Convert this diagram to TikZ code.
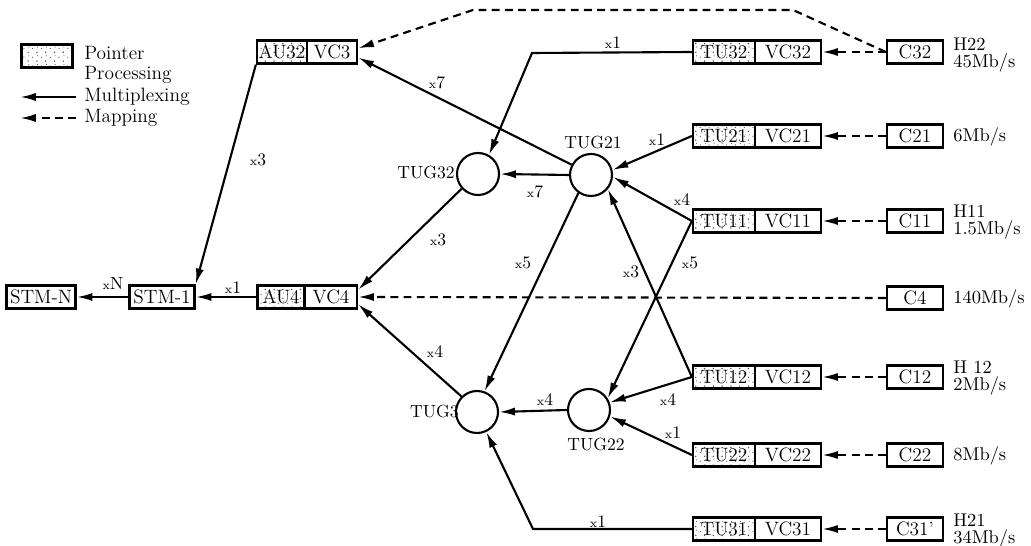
\documentclass[tikz,border=0pt]{standalone}
\usepackage{tikz}
\usetikzlibrary{arrows.meta,patterns}

\pgfdeclarepatternformonly{specks}{\pgfqpoint{-1pt}{-1pt}}{\pgfqpoint{6pt}{6pt}}{\pgfqpoint{5pt}{5pt}}{%
  \pgfpathcircle{\pgfqpoint{1pt}{1pt}}{0.45pt}
  \pgfpathcircle{\pgfqpoint{3.6pt}{3.2pt}}{0.35pt}
  \pgfpathcircle{\pgfqpoint{1.4pt}{4pt}}{0.3pt}
  \pgfusepath{fill}}

\newcommand{\mul}[1]{{\scriptsize x}#1}

\begin{document}
\begin{tikzpicture}
  [x=0.02cm,y=-0.02cm,every node/.style={font=\fontsize{11}{12}\selectfont},
   cbox/.style={draw,line width=1.3pt,inner sep=0pt,minimum height=0.46cm},
   ppbox/.style={cbox,pattern=specks,pattern color=black!70},
   tug/.style={draw,circle,line width=1.2pt,minimum size=0.84cm,inner sep=0pt},
   lbl/.style={font=\fontsize{10}{12}\selectfont,inner sep=0pt},
   leg/.style={anchor=west,inner sep=0pt},
   rate/.style={anchor=west,align=left,inner sep=0pt,font=\fontsize{10.5}{9.5}\selectfont},
   mux/.style={line width=1.2pt,-{Latex[length=9pt,width=4.6pt]}},
   map/.style={mux,dash pattern=on 4.5pt off 3pt}]
  \useasboundingbox (0,0) rectangle (1031,546);

  % legend
  \node[ppbox,minimum width=1.02cm] (lgpp) at (47,56) {};
  \node[leg] (lgt1) at (84,53) {Pointer};
  \node[leg] (lgt2) at (84,75) {Processing};
  \coordinate (lgm1) at (76,97);
  \coordinate (lgm2) at (20,97);
  \draw[mux] (lgm1) -- (lgm2);
  \node[leg] (lgt3) at (84,97) {Multiplexing};
  \coordinate (lgd1) at (76,118);
  \coordinate (lgd2) at (20,118);
  \draw[map] (lgd1) -- (lgd2);
  \node[leg] (lgt4) at (84,118) {Mapping};

  % left side
  \node[cbox,minimum width=1.38cm] (stmN) at (41,297) {STM-N};
  \node[cbox,minimum width=1.3cm] (stm1) at (162,297) {STM-1};
  \node[ppbox,minimum width=0.94cm] (au4) at (281,297) {AU4};
  \node[cbox,minimum width=1.04cm] (vc4) at (331,297) {VC4};
  \node[ppbox,minimum width=1.0cm] (au32) at (282,52) {AU32};
  \node[cbox,minimum width=1.0cm] (vc3) at (332,52) {VC3};

  % tributary groups
  \node[tug] (tug32) at (478,174) {};
  \node[tug] (tug21) at (591,175) {};
  \node[tug] (tug3) at (477,412) {};
  \node[tug] (tug22) at (589,410) {};
  \node[anchor=east,inner sep=0pt,font=\fontsize{10}{12}\selectfont] (n32) at (455,173) {TUG32};
  \node[lbl] (n21) at (593,143) {TUG21};
  \node[anchor=east,inner sep=0pt,font=\fontsize{10}{12}\selectfont] (n3) at (459,412) {TUG3};
  \node[lbl] (n22) at (596,445) {TUG22};

  % tributary rows
  \foreach \n/\y/\c in {32/52/C32,21/136/C21,11/221/C11,12/377/C12,22/455/C22,31/529/C31'}{
    \node[ppbox,minimum width=1.24cm] (tu\n) at (724,\y) {TU\n};
    \node[cbox,minimum width=1.32cm] (vc\n) at (788,\y) {VC\n};
    \node[cbox,minimum width=1.12cm] (c\n) at (915,\y) {\c};
    \draw[map] (c\n.west) -- (vc\n.east);
  }
  \node[cbox,minimum width=1.12cm] (c4) at (915,298) {C4};

  \node[rate] (r32) at (953,55) {H22\\45Mb/s};
  \node[rate] (r21) at (953,137) {6Mb/s};
  \node[rate] (r11) at (953,222) {H11\\1.5Mb/s};
  \node[rate] (r4) at (953,299) {140Mb/s};
  \node[rate] (r12) at (953,378) {H 12\\2Mb/s};
  \node[rate] (r22) at (953,456) {8Mb/s};
  \node[rate] (r31) at (953,531) {H21\\34Mb/s};

  \coordinate (k1) at (793,10);
  \coordinate (k2) at (473,10);
  \coordinate (b32) at (532,53);
  \coordinate (b31) at (533,529);

  % mapping
  \draw[map] (c4.west) -- (vc4.east);
  \draw[map] (c32.west) -- (k1) -- (k2) -- (vc3.8);

  % multiplexing
  \draw[mux] (stm1.west) -- (stmN.east);
  \draw[mux] (au4.west) -- (stm1.east);
  \draw[mux] (au32.south west) -- (stm1.north east);
  \draw[mux] (tug21.152) -- (vc3.-12);
  \draw[mux] (tu32.west) -- (b32) -- (tug32.60);
  \draw[mux] (tug21.west) -- (tug32.east);
  \draw[mux] (tug32.222) -- (vc4.15);
  \draw[mux] (tug3.135) -- (vc4.-15);
  \draw[mux] (tug21.235) -- (tug3.70);
  \draw[mux] (tug22.west) -- (tug3.east);
  \draw[mux] (tu21.west) -- (tug21.13);
  \draw[mux] (tu11.west) -- (tug21.-5);
  \draw[mux] (tu11.west) -- (tug22.32);
  \draw[mux] (tu12.west) -- (tug21.-40);
  \draw[mux] (tu12.west) -- (tug22.20);
  \draw[mux] (tu22.west) -- (tug22.-17);
  \draw[mux] (tu31.west) -- (b31) -- (tug3.-65);

  % multiplexing factors
  \node[lbl] (lxN) at (113,284) {\mul{N}};
  \node[lbl] (lx1s) at (233,288) {\mul{1}};
  \node[lbl] (lx3a) at (258,160) {\mul{3}};
  \node[lbl] (lx7a) at (437,83) {\mul{7}};
  \node[lbl] (lx1a) at (613,43) {\mul{1}};
  \node[lbl] (lx7b) at (535,192) {\mul{7}};
  \node[lbl] (lx3b) at (438,240) {\mul{3}};
  \node[lbl] (lx4a) at (435,352) {\mul{4}};
  \node[lbl] (lx5a) at (523,263) {\mul{5}};
  \node[lbl] (lx4b) at (545,400) {\mul{4}};
  \node[lbl] (lx1b) at (657,140) {\mul{1}};
  \node[lbl] (lx4c) at (682,200) {\mul{4}};
  \node[lbl] (lx5b) at (690,263) {\mul{5}};
  \node[lbl] (lx3c) at (631,272) {\mul{3}};
  \node[lbl] (lx4d) at (668,400) {\mul{4}};
  \node[lbl] (lx1c) at (673,433) {\mul{1}};
  \node[lbl] (lx1d) at (598,522) {\mul{1}};
\end{tikzpicture}
\end{document}
